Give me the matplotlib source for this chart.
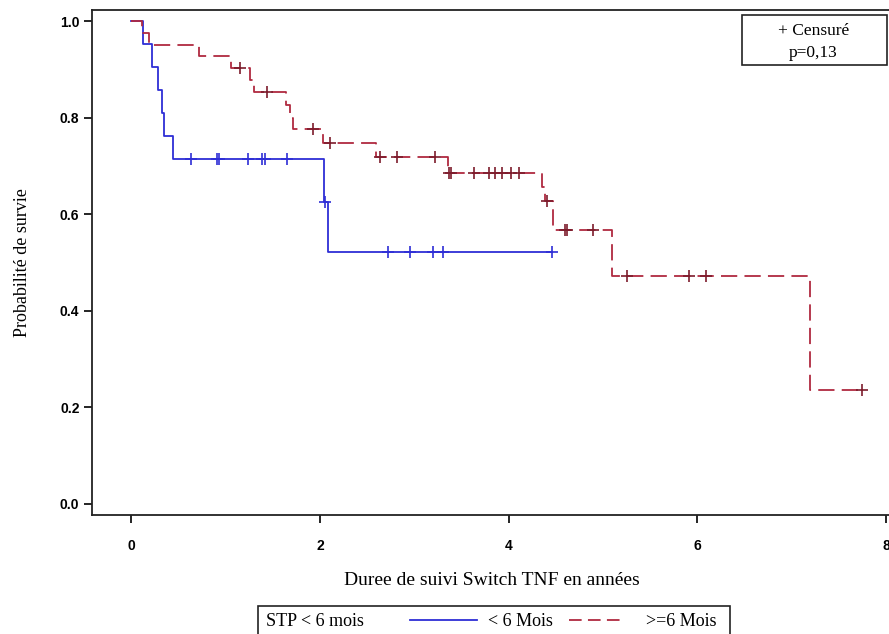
import matplotlib
matplotlib.use('Agg')
import matplotlib.pyplot as plt
from matplotlib import font_manager
from matplotlib.lines import Line2D
from matplotlib.patches import Rectangle
import numpy as np

# Kaplan-Meier steps: event times and survival just after each event
blue_times = [0.0, 0.13, 0.22, 0.29, 0.33, 0.35, 0.44, 2.04, 2.09]
blue_surv = [1.0, 0.952, 0.905, 0.857, 0.810, 0.762, 0.714, 0.625, 0.521]
blue_end = 4.46
blue_censor = [0.64, 0.91, 0.93, 1.24, 1.39, 1.42, 1.65, 2.06,
               2.72, 2.96, 3.20, 3.31, 4.46]

red_times = [0.0, 0.12, 0.19, 0.72, 1.06, 1.26, 1.30, 1.64, 1.68, 1.72,
             2.03, 2.60, 3.36, 4.35, 4.38, 4.47, 5.10, 7.19]
red_surv = [1.0, 0.975, 0.950, 0.927, 0.903, 0.878, 0.852, 0.826, 0.800,
            0.776, 0.747, 0.718, 0.686, 0.657, 0.627, 0.567, 0.472, 0.236]
red_end = 7.74
red_censor = [1.15, 1.44, 1.93, 2.11, 2.64, 2.82, 3.22, 3.37, 3.39, 3.63,
              3.79, 3.86, 3.93, 4.02, 4.11, 4.41, 4.60, 4.62, 4.89, 5.25,
              5.91, 6.09, 7.74]

group_labels = ['< 6 Mois', '>=6 Mois']
legend_title = 'STP < 6 mois'
p_value = 'p=0,13'

BLUE = '#2e2ed6'
RED = '#b02a40'
RED_DARK = '#7d1c2c'
DASH = (9, 4)

installed = set(f.name for f in font_manager.fontManager.ttflist)
tick_family = 'Liberation Sans Narrow' if 'Liberation Sans Narrow' in installed else 'Liberation Sans'
serif = 'Liberation Serif'


def surv_at(times, surv, t):
    idx = np.searchsorted(times, t, side='right') - 1
    return np.asarray(surv)[idx]


def km_plot(ax, times, surv, end, censor, color, mcolor, dashes=None):
    xs = list(times) + [end]
    ys = list(surv) + [surv[-1]]
    line, = ax.step(xs, ys, where='post', color=color, lw=1.3)
    if dashes is not None:
        line.set_dashes(dashes)
    ax.plot(censor, surv_at(times, surv, censor), linestyle='none', marker='+',
            ms=8, mew=1.2, color=mcolor)
    return line


fig = plt.figure(figsize=(8.89, 6.34), dpi=100)
ax = fig.add_axes([92 / 889, 119 / 634, 799 / 889, 505 / 634])

km_plot(ax, blue_times, blue_surv, blue_end, blue_censor, BLUE, BLUE)
km_plot(ax, red_times, red_surv, red_end, red_censor, RED, RED_DARK, dashes=DASH)

ax.set_xlim(-0.413, 8.05)
ax.set_ylim(-0.0228, 1.0228)
ax.set_xticks([0, 2, 4, 6, 8])
ax.set_yticks([0.0, 0.2, 0.4, 0.6, 0.8, 1.0])
ax.set_yticklabels(['0.0', '0.2', '0.4', '0.6', '0.8', '1.0'])
ax.tick_params(direction='out', length=6, width=1.2, labelsize=10)
ax.tick_params(axis='x', pad=11)
ax.tick_params(axis='y', pad=3)
for lab in ax.get_xticklabels() + ax.get_yticklabels():
    lab.set_family(tick_family)
    lab.set_fontweight('bold')
for sp in ax.spines.values():
    sp.set_linewidth(1.3)
    sp.set_color('#222222')

ax.set_xlabel('Duree de suivi Switch TNF en années', family=serif, fontsize=14, labelpad=14)
ax.set_ylabel('Probabilité de survie', family=serif, fontsize=13, labelpad=21)

# censor / p-value box in the upper right corner
ax.add_patch(Rectangle((0.8135, 0.891), 0.1815, 0.099, transform=ax.transAxes,
                       fill=False, lw=1.2, ec='#222222'))
ax.text(0.903, 0.958, '+ Censuré', transform=ax.transAxes, ha='center', va='center',
        family=serif, fontsize=12.5)
ax.text(0.903, 0.915, p_value, transform=ax.transAxes, ha='center', va='center',
        family=serif, fontsize=12.5)

# group legend below the axes
fig.patches.append(Rectangle((258 / 889, -0.02), 472 / 889, 0.064, transform=fig.transFigure,
                             fill=False, lw=1.2, ec='#222222'))
ly = 0.019
fig.text(266 / 889, ly, legend_title, family=serif, fontsize=13, va='center')
fig.lines.append(Line2D([410 / 889, 477 / 889], [ly + 0.003, ly + 0.003], transform=fig.transFigure,
                        color=BLUE, lw=1.3))
fig.text(488 / 889, ly, group_labels[0], family=serif, fontsize=13, va='center')
red_sample = Line2D([569 / 889, 625 / 889], [ly + 0.003, ly + 0.003], transform=fig.transFigure,
                    color=RED, lw=1.3)
red_sample.set_dashes((7, 3.5))
fig.lines.append(red_sample)
fig.text(646 / 889, ly, group_labels[1], family=serif, fontsize=13, va='center')

fig.savefig('out.png', dpi=100)
